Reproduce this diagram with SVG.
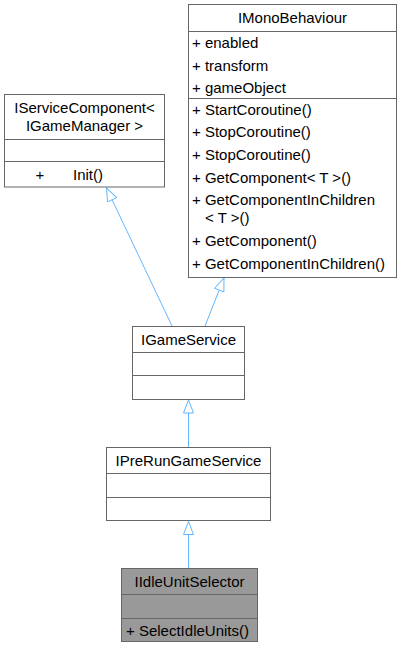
<svg xmlns="http://www.w3.org/2000/svg" width="402" height="648" viewBox="0 0 402 648">
<defs>
<style>
.box{fill:#ffffff;stroke:#666666;stroke-width:1}
.sel{fill:#999999;stroke:#666666;stroke-width:1}
.sep{stroke:#666666;stroke-width:1;fill:none}
text{font-family:"Liberation Sans",Arial,sans-serif;font-size:15px;fill:#000000}
.c{text-anchor:middle}
.edge{stroke:#63b8ff;stroke-width:1;fill:none;marker-end:url(#inh)}
</style>
<marker id="inh" viewBox="0 0 14 11" refX="13.5" refY="5.5" markerWidth="14" markerHeight="11" orient="auto" markerUnits="userSpaceOnUse">
<path d="M0.5,0.5 L13.5,5.5 L0.5,10.5 Z" fill="#ffffff" stroke="#63b8ff" stroke-width="1"/>
</marker>
</defs>
<rect width="402" height="648" fill="#ffffff"/>
<g id="connectors">
<path class="edge" d="M188.5,568 L188.5,521.5"/>
<path class="edge" d="M188.5,447 L188.5,400"/>
<path class="edge" d="M172,326 L106.5,188"/>
<path class="edge" d="M205,326 L224,278"/>
</g>
<g id="IServiceComponent">
<rect class="box" x="4.5" y="94.5" width="160" height="92.5"/>
<path class="sep" d="M4.5,139.5 H164.5 M4.5,161.5 H164.5"/>
<text class="c" x="84.5" y="113">IServiceComponent&lt;</text>
<text class="c" x="84.5" y="131">IGameManager &gt;</text>
<text class="c" x="40" y="179.5">+</text>
<text x="73" y="179.5">Init()</text>
</g>
<g id="IMonoBehaviour">
<rect class="box" x="188.5" y="4.5" width="208" height="273"/>
<path class="sep" d="M188.5,31.5 H396.5 M188.5,98.5 H396.5"/>
<text class="c" x="292.5" y="23">IMonoBehaviour</text>
<text x="192" y="48">+ enabled</text>
<text x="192" y="70.5">+ transform</text>
<text x="192" y="93">+ gameObject</text>
<text x="192" y="114.5">+ StartCoroutine()</text>
<text x="192" y="137">+ StopCoroutine()</text>
<text x="192" y="159.5">+ StopCoroutine()</text>
<text x="192" y="182.5">+ GetComponent&lt; T &gt;()</text>
<text x="192" y="205">+ GetComponentInChildren</text>
<text x="205" y="223">&lt; T &gt;()</text>
<text x="192" y="246">+ GetComponent()</text>
<text x="192" y="269">+ GetComponentInChildren()</text>
</g>
<g id="IGameService">
<rect class="box" x="132.5" y="326.5" width="112" height="73"/>
<path class="sep" d="M132.5,352.5 H244.5 M132.5,375.5 H244.5"/>
<text class="c" x="188.5" y="345">IGameService</text>
</g>
<g id="IPreRunGameService">
<rect class="box" x="106.5" y="447.5" width="164" height="73"/>
<path class="sep" d="M106.5,473.5 H270.5 M106.5,497.5 H270.5"/>
<text class="c" x="188.5" y="466">IPreRunGameService</text>
</g>
<g id="IIdleUnitSelector">
<rect class="sel" x="121.5" y="568.5" width="136" height="73"/>
<path class="sep" d="M121.5,594.5 H257.5 M121.5,618.5 H257.5"/>
<text class="c" x="189.5" y="586.5">IIdleUnitSelector</text>
<text x="126" y="635.5">+ SelectIdleUnits()</text>
</g>
</svg>
